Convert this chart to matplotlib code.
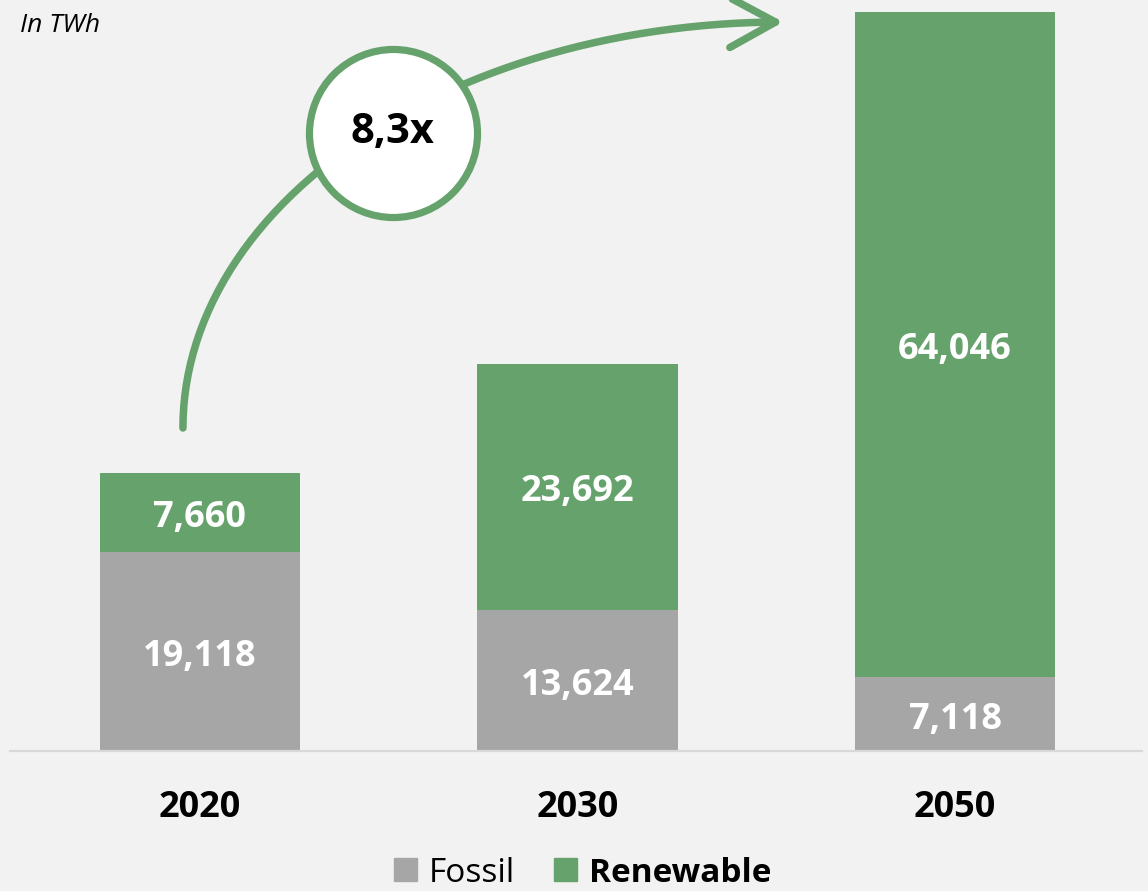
import numpy as np
import matplotlib.pyplot as plt
from matplotlib.patches import Patch, FancyArrowPatch
from matplotlib.path import Path

# Data (TWh)
years = ['2020', '2030', '2050']
fossil = [19118, 13624, 7118]
renewable = [7660, 23692, 64046]

grey = '#A6A6A6'
green = '#66A36C'
bg = '#F2F2F2'

plt.rcParams['font.family'] = ['Open Sans', 'DejaVu Sans']

fig = plt.figure(figsize=(11.48, 8.91), dpi=100, facecolor=bg)
ax = fig.add_axes([10 / 1148, 140 / 891, 1132 / 1148, 751 / 891])
ax.set_facecolor(bg)

x = np.arange(len(years))
w = 0.53
ax.bar(x, fossil, w, color=grey, label='Fossil', zorder=2)
ax.bar(x, renewable, w, bottom=fossil, color=green, label='Renewable', zorder=2)

# value labels in the middle of each segment
for i in range(len(years)):
    ax.annotate(f'{fossil[i]:,}', (x[i], fossil[i] / 2), xytext=(0, -4),
                textcoords='offset points', ha='center', va='center',
                color='white', fontsize=26, fontweight='bold', zorder=3)
    ax.annotate(f'{renewable[i]:,}', (x[i], fossil[i] + renewable[i] / 2), xytext=(0, -4),
                textcoords='offset points', ha='center', va='center',
                color='white', fontsize=26, fontweight='bold', zorder=3)

ax.set_xlim(-0.503, 2.495)
ax.set_ylim(0, 72322)
ax.set_yticks([])
ax.set_xticks(x)
ax.set_xticklabels(years, fontsize=26, fontweight='bold')
ax.tick_params(axis='x', length=0, pad=28)
for s in ['top', 'right', 'left']:
    ax.spines[s].set_visible(False)
ax.spines['bottom'].set_color('#D9D9D9')
ax.spines['bottom'].set_linewidth(1.6)

# growth arrow: quarter ellipse from above 2020 bar to top of 2050 bar
x0, y0 = -0.045, 31106   # start
x1, y1 = 1.545, 70204    # end (arrow tip)
t = np.linspace(0, np.pi / 2, 60)
arc_pts = np.column_stack([x1 - (x1 - x0) * np.cos(t), y0 + (y1 - y0) * np.sin(t)])
arrow = FancyArrowPatch(path=Path(arc_pts), arrowstyle='->,head_length=0.55,head_width=0.3',
                        mutation_scale=60, color=green, lw=5.4,
                        capstyle='round', joinstyle='round', zorder=4)
ax.add_patch(arrow)

# circle with multiplier
ax.plot([0.511], [59515], marker='o', markersize=121, markerfacecolor='white',
        markeredgecolor=green, markeredgewidth=5.2, zorder=5, clip_on=False)
ax.text(0.511, 59515, '8,3x', ha='center', va='center', fontsize=30,
        fontweight='bold', color='black', zorder=6)

fig.text(20 / 1148, 1 - 25 / 891, 'In TWh', fontsize=19, fontstyle='italic',
         ha='left', va='center')

handles = [Patch(color=grey, label='Fossil'), Patch(color=green, label='Renewable')]
leg = fig.legend(handles=handles, loc='center', bbox_to_anchor=(583 / 1148, 1 - 873 / 891),
                 ncol=2, frameon=False, fontsize=24, handlelength=0.69, handleheight=0.69,
                 handletextpad=0.36, columnspacing=1.17, borderpad=0)
leg.get_texts()[1].set_fontweight('bold')

fig.savefig('out.png', dpi=100, facecolor=bg)
